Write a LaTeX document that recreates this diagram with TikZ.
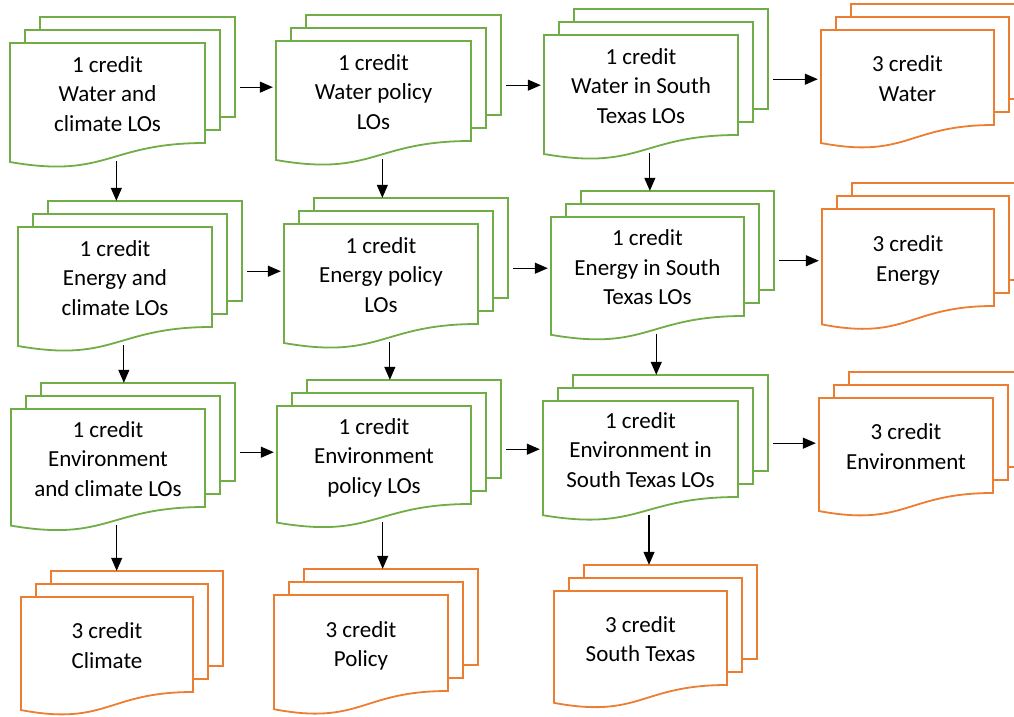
\documentclass[tikz,border=0pt]{standalone}
\usepackage{fontspec}
\setmainfont{Carlito}
\usetikzlibrary{arrows.meta}
\definecolor{docgreen}{RGB}{112,173,71}
\definecolor{docorange}{RGB}{237,125,49}
\tikzset{lbl/.style  = {align=center, inner sep=0pt, text depth=0pt, font=\fontsize{23}{29.5}\selectfont},
         hop/.style  = {-{Triangle[length=13pt, width=11pt]}, line width=1.2pt, shorten <=35pt, shorten >=3pt},
         drop/.style = {-{Triangle[length=13pt, width=11pt]}, line width=1.2pt, shorten <=17pt, shorten >=27pt},
         pics/mdoc/.style n args = {4}{code = {
           \draw[#3, line width=1.8pt, fill=white] (30,-26) rectangle ++(#1,#2);
           \draw[#3, line width=1.8pt, fill=white] (15,-13) rectangle ++(#1,#2);
           \draw[#3, line width=1.8pt, fill=white] (0,0) -- (#1,0) -- (#1,#2)
             .. controls (#1/2,#2) and (#1/2,1.36*#2) .. (0,1.19*#2) -- cycle;
           \node[lbl, minimum width=#1, minimum height=#2] (-doc) at (#1/2,#2/2+1) {#4};}}}

\begin{document}
\begin{tikzpicture}[x=1pt, y=-1pt]
    \useasboundingbox (0,0) rectangle (1014,717);
    \pic (wcl) at (10,43)   {mdoc={195}{100}{docgreen}{1 credit\\Water and\\climate LOs}};
    \pic (wpo) at (276,41)  {mdoc={195}{100}{docgreen}{1 credit\\Water policy\\LOs}};
    \pic (wst) at (544,35)  {mdoc={194}{100}{docgreen}{1 credit\\Water in South\\Texas LOs}};
    \pic (wat) at (821,30)  {mdoc={173}{95}{docorange}{3 credit\\Water}};
    \pic (ecl) at (18,227)  {mdoc={194}{100}{docgreen}{1 credit\\Energy and\\climate LOs}};
    \pic (epo) at (284,224) {mdoc={194}{100}{docgreen}{1 credit\\Energy policy\\LOs}};
    \pic (est) at (551,217) {mdoc={193}{99}{docgreen}{1 credit\\Energy in South\\Texas LOs}};
    \pic (ene) at (822,209) {mdoc={172}{97}{docorange}{3 credit\\Energy}};
    \pic (vcl) at (11,409)  {mdoc={194}{98}{docgreen}{1 credit\\Environment\\and climate LOs}};
    \pic (vpo) at (277,406) {mdoc={194}{98}{docgreen}{1 credit\\Environment\\policy LOs}};
    \pic (vst) at (543,401) {mdoc={195}{96}{docgreen}{1 credit\\Environment in\\South Texas LOs}};
    \pic (env) at (819,398) {mdoc={174}{95}{docorange}{3 credit\\Environment}};
    \pic (cli) at (21,597)  {mdoc={172}{95}{docorange}{3 credit\\Climate}};
    \pic (pol) at (274,595) {mdoc={174}{96}{docorange}{3 credit\\Policy}};
    \pic (sot) at (554,591) {mdoc={173}{94}{docorange}{3 credit\\South Texas}};
    % across the rows
    \draw[hop] (wcl-doc.4) -- (wcl-doc.4 -| wpo-doc.west);
    \draw[hop] (wpo-doc.4) -- (wpo-doc.4 -| wst-doc.west);
    \draw[hop] (wst-doc.4) -- (wst-doc.4 -| wat-doc.west);
    \draw[hop] (ecl-doc.4) -- (ecl-doc.4 -| epo-doc.west);
    \draw[hop] (epo-doc.4) -- (epo-doc.4 -| est-doc.west);
    \draw[hop] (est-doc.4) -- (est-doc.4 -| ene-doc.west);
    \draw[hop] (vcl-doc.4) -- (vcl-doc.4 -| vpo-doc.west);
    \draw[hop] (vpo-doc.4) -- (vpo-doc.4 -| vst-doc.west);
    \draw[hop] (vst-doc.4) -- (vst-doc.4 -| env-doc.west);
    % down the columns
    \draw[drop] (wcl-doc.-80) -- (wcl-doc.-80 |- ecl-doc.north);
    \draw[drop] (wpo-doc.-80) -- (wpo-doc.-80 |- epo-doc.north);
    \draw[drop] (wst-doc.-80) -- (wst-doc.-80 |- est-doc.north);
    \draw[drop] (ecl-doc.-80) -- (ecl-doc.-80 |- vcl-doc.north);
    \draw[drop] (epo-doc.-80) -- (epo-doc.-80 |- vpo-doc.north);
    \draw[drop] (est-doc.-80) -- (est-doc.-80 |- vst-doc.north);
    \draw[drop] (vcl-doc.-80) -- (vcl-doc.-80 |- cli-doc.north);
    \draw[drop] (vpo-doc.-80) -- (vpo-doc.-80 |- pol-doc.north);
    \draw[drop] (vst-doc.-80) -- (vst-doc.-80 |- sot-doc.north);
\end{tikzpicture}
\end{document}
